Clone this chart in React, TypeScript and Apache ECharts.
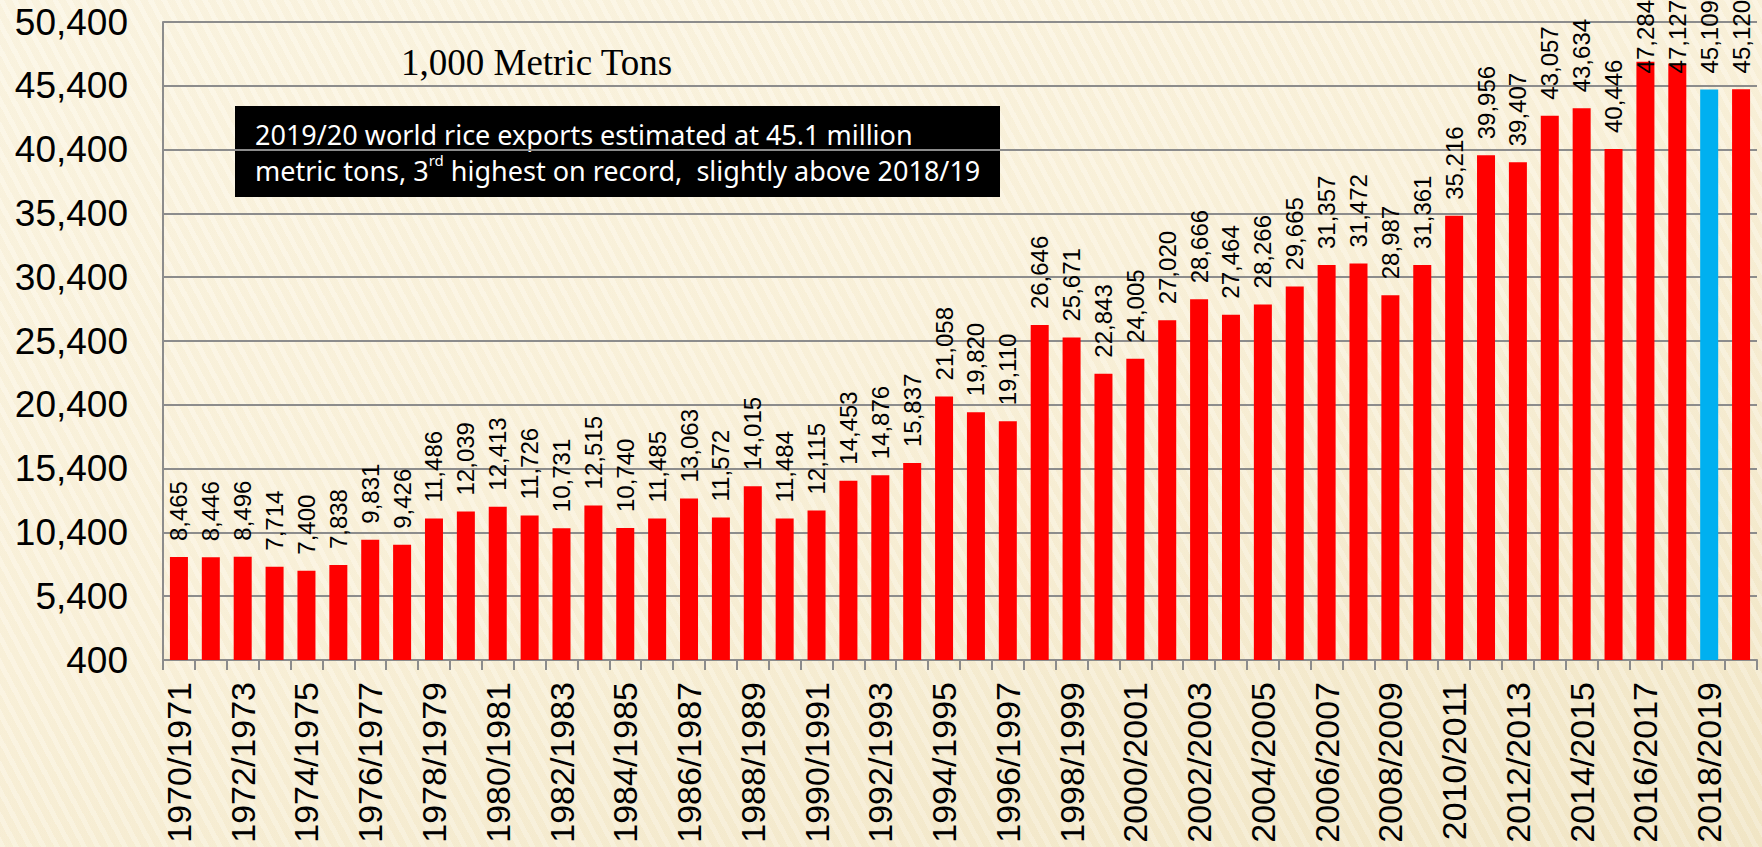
import React, { useEffect, useRef } from "react";
import * as echarts from "echarts";

const categories = [
  "1970/1971", "1971/1972", "1972/1973", "1973/1974", "1974/1975", "1975/1976",
  "1976/1977", "1977/1978", "1978/1979", "1979/1980", "1980/1981", "1981/1982",
  "1982/1983", "1983/1984", "1984/1985", "1985/1986", "1986/1987", "1987/1988",
  "1988/1989", "1989/1990", "1990/1991", "1991/1992", "1992/1993", "1993/1994",
  "1994/1995", "1995/1996", "1996/1997", "1997/1998", "1998/1999", "1999/2000",
  "2000/2001", "2001/2002", "2002/2003", "2003/2004", "2004/2005", "2005/2006",
  "2006/2007", "2007/2008", "2008/2009", "2009/2010", "2010/2011", "2011/2012",
  "2012/2013", "2013/2014", "2014/2015", "2015/2016", "2016/2017", "2017/2018",
  "2018/2019", "2019/2020",
];

const riceExports = [
  8465, 8446, 8496, 7714, 7400, 7838, 9831, 9426, 11486, 12039,
  12413, 11726, 10731, 12515, 10740, 11485, 13063, 11572, 14015, 11484,
  12115, 14453, 14876, 15837, 21058, 19820, 19110, 26646, 25671, 22843,
  24005, 27020, 28666, 27464, 28266, 29665, 31357, 31472, 28987, 31361,
  35216, 39956, 39407, 43057, 43634, 40446, 47284, 47127, 45109, 45120,
];

const highlightCategory = "2018/2019";
const yMin = 400;
const yMax = 50400;
const yStep = 5000;

const unitLabel = "1,000 Metric Tons";
const noteLine1 = "2019/20 world rice exports estimated at 45.1 million";
const noteLine2 = "metric tons, 3{sup|rd} highest on record,  slightly above 2018/19";

const fmt = (v: number) => Number(v).toLocaleString("en-US");

export default function App() {
  const ref = useRef<HTMLDivElement>(null);

  useEffect(() => {
    document.body.style.margin = "0";
    const chart = echarts.init(ref.current!, null, { renderer: "svg" });
    const axisFont = "'Liberation Sans', Arial, sans-serif";
    chart.setOption({
      animation: false,
      backgroundColor: "transparent",
      grid: { left: 163, right: 5, top: 22, bottom: 187, containLabel: false },
      xAxis: {
        type: "category",
        data: categories,
        boundaryGap: true,
        axisLine: { lineStyle: { color: "#8c8c8c", width: 2 } },
        axisTick: { show: true, interval: 0, length: 10, lineStyle: { color: "#8c8c8c", width: 2 } },
        axisLabel: {
          interval: 1,
          rotate: 90,
          fontSize: 34,
          color: "#000",
          fontFamily: axisFont,
          margin: 22,
        },
      },
      yAxis: {
        type: "value",
        min: yMin,
        max: yMax,
        interval: yStep,
        axisLine: { show: true, lineStyle: { color: "#8c8c8c", width: 2 } },
        axisTick: { show: false },
        splitLine: { show: true, lineStyle: { color: "#8c8c8c", width: 2 } },
        axisLabel: {
          formatter: (v: number) => fmt(v),
          fontSize: 37,
          color: "#000",
          fontFamily: axisFont,
          margin: 35,
        },
      },
      series: [
        {
          type: "bar",
          barWidth: 18,
          data: riceExports.map((v, i) => ({
            value: v,
            itemStyle: { color: categories[i] === highlightCategory ? "#00B0F0" : "#FF0000" },
          })),
          label: {
            show: true,
            position: "top",
            rotate: 90,
            align: "left",
            verticalAlign: "middle",
            distance: 16,
            fontSize: 24,
            color: "#000",
            fontFamily: axisFont,
            formatter: (p: any) => fmt(p.value),
          },
          labelLayout: (params: any) => {
            const r = params.labelRect;
            // offset is applied in the label's rotated frame: negative dx moves it down
            return r && r.y < 0 ? { dx: r.y } : {};
          },
        },
      ],
      graphic: [
        {
          type: "text",
          left: 401,
          top: 44,
          style: {
            text: unitLabel,
            font: "37px 'Liberation Serif', 'Times New Roman', serif",
            fill: "#000",
          },
        },
        {
          type: "rect",
          shape: { x: 235, y: 106, width: 765, height: 91 },
          style: { fill: "#000" },
        },
        {
          type: "text",
          x: 255,
          y: 152,
          style: {
            text: noteLine1 + "\n" + noteLine2,
            font: "27px 'Noto Sans', sans-serif",
            fill: "#fff",
            lineHeight: 36,
            verticalAlign: "middle",
            align: "left",
            rich: {
              sup: {
                fontSize: 15,
                fontFamily: "'Noto Sans', sans-serif",
                fill: "#fff",
                verticalAlign: "top",
                lineHeight: 23,
              },
            },
          },
        },
      ],
    });
    return () => chart.dispose();
  }, []);

  return (
    <div
      ref={ref}
      style={{
        width: 1762,
        height: 847,
        background:
          "repeating-linear-gradient(62deg, rgba(255,255,255,0.18) 0px, rgba(255,255,255,0.18) 5px, rgba(220,200,150,0.06) 5px, rgba(220,200,150,0.06) 12px), linear-gradient(160deg, #FBF5E3 0%, #FAF2DC 45%, #F2E7C8 100%)",
      }}
    />
  );
}
